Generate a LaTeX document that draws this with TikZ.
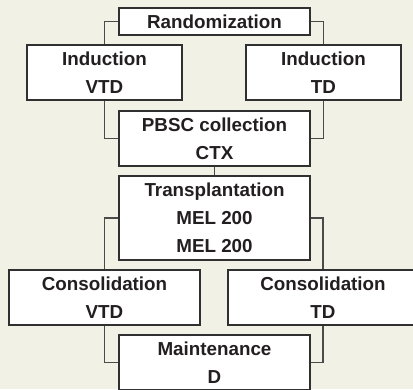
\documentclass[tikz,border=0pt]{standalone}
\usepackage{fontspec}
\setmainfont{Liberation Sans}
\definecolor{bgc}{HTML}{F2F1E6}
\definecolor{edgec}{HTML}{303030}
\definecolor{wirec}{HTML}{4A4A4A}
\definecolor{txtc}{HTML}{231F20}
\begin{document}
\begin{tikzpicture}[x=1pt,y=-1pt,
  box/.style={draw=edgec, line width=1.4pt, fill=white, inner sep=0pt, align=center,
    font=\fontsize{18.8}{28}\selectfont\bfseries, text=txtc},
  wire/.style={draw=wirec, line width=1.9pt}]
\useasboundingbox (0,0) rectangle (413,389);
\clip (0,0) rectangle (413,389);
\fill[bgc] (0,0) rectangle (413,389);
\node[box, minimum width=191pt, minimum height=27pt] (rand) at (214.5,21.5) {Randomization};
\node[box, minimum width=155pt, minimum height=55pt] (ivtd) at (104.5,72.5) {Induction\\VTD};
\node[box, minimum width=155pt, minimum height=55pt] (itd) at (323.5,72.5) {Induction\\TD};
\node[box, minimum width=191pt, minimum height=55pt] (pbsc) at (214.5,138.5) {PBSC collection\\CTX};
\node[box, minimum width=191pt, minimum height=84pt] (trans) at (214.5,218) {Transplantation\\MEL 200\\MEL 200};
\node[box, minimum width=191pt, minimum height=55pt] (cvtd) at (104.5,297.5) {Consolidation\\VTD};
\node[box, minimum width=190pt, minimum height=55pt] (ctd) at (323,297.5) {Consolidation\\TD};
\node[box, minimum width=191pt, minimum height=55pt] (maint) at (214.5,362.5) {Maintenance\\D};
\draw[wire] (rand.west) -| (ivtd.north);
\draw[wire] (rand.east) -| (itd.north);
\draw[wire] (ivtd.south) |- (pbsc.west);
\draw[wire] (itd.south) |- (pbsc.east);
\draw[wire] (pbsc.south) -- (trans.north);
\draw[wire] (trans.west) -| (cvtd.north);
\draw[wire] (trans.east) -| (ctd.north);
\draw[wire] (cvtd.south) |- (maint.west);
\draw[wire] (ctd.south) |- (maint.east);
\end{tikzpicture}
\end{document}
